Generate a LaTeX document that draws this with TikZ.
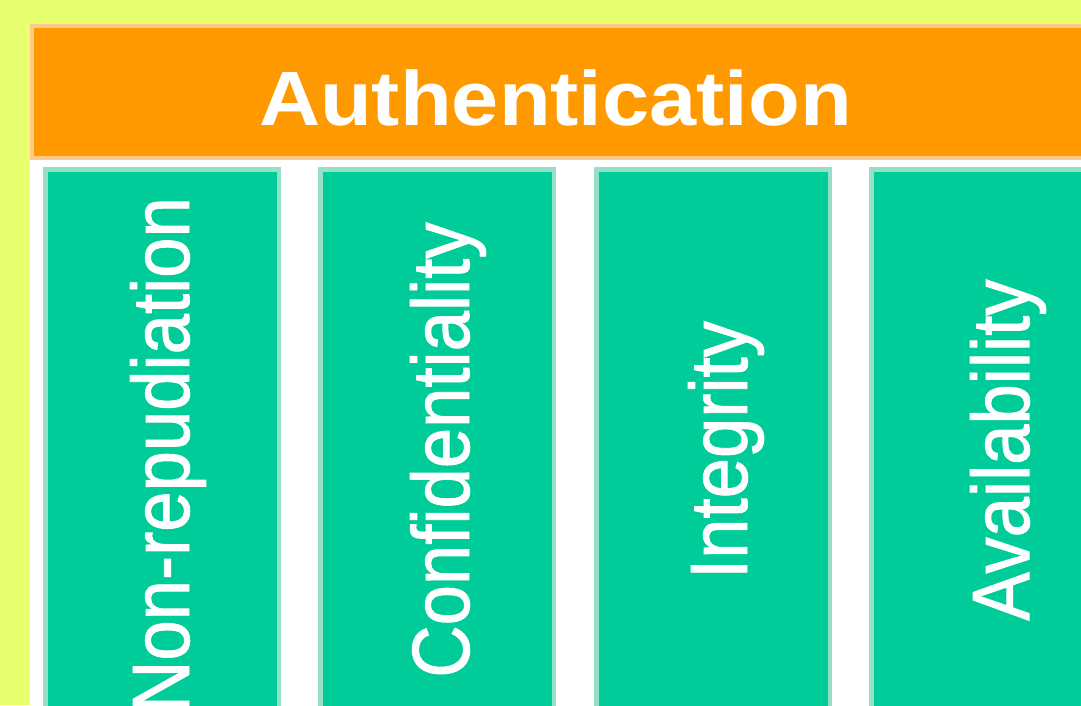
\documentclass[tikz,border=0pt]{standalone}
\usepackage{fontspec}
\setmainfont{Liberation Sans}
\newfontfamily\pillarfont[FakeBold=1.2]{Liberation Sans}
\usetikzlibrary{positioning}
\definecolor{bgyellow}{RGB}{232,255,112}
\definecolor{barorange}{RGB}{255,153,0}
\definecolor{barborder}{RGB}{255,200,140}
\definecolor{colteal}{RGB}{0,204,153}
\definecolor{colborder}{RGB}{150,224,200}
\tikzset{
  pillar/.style={fill=colteal, draw=colborder, line width=4.5pt},
  pillartext/.style={rotate=90, anchor=base, text=white, inner sep=0pt,
    font=\pillarfont\fontsize{72.5}{80}\selectfont},
  headbar/.style={fill=barorange, draw=barborder, line width=4pt},
  headtext/.style={anchor=base, text=white, inner sep=0pt,
    font=\fontsize{77}{80}\selectfont\bfseries}
}
\begin{document}
\begin{tikzpicture}[x=1pt,y=-1pt]
\useasboundingbox (0,0) rectangle (1081,705);
\clip (0,0) rectangle (1081,705);
\fill[bgyellow] (0,0) rectangle (1081,705);
\fill[white] (30,24) rectangle (1100,720);
\draw[headbar] (32,26) rectangle (1100,158);
\node[headtext] (auth) at (555.5,125) {\scalebox{1.1}[1]{Authentication}};
\draw[pillar] (45.25,169.25) rectangle (278.75,730);
\draw[pillar] (320.25,169.25) rectangle (553.75,730);
\draw[pillar] (596.25,169.25) rectangle (829.75,730);
\draw[pillar] (871.25,169.25) rectangle (1104.75,730);
\node[pillartext] (nonrep) at (189,455) {\scalebox{1}[1.12]{Non-repudiation}};
\node[pillartext] (conf) at (469,450) {\scalebox{1}[1.12]{Confidentiality}};
\node[pillartext] (integ) at (747,450) {\scalebox{1}[1.12]{Integrity}};
\node[pillartext] (avail) at (1029,450) {\scalebox{1}[1.12]{Availability}};
\end{tikzpicture}
\end{document}
